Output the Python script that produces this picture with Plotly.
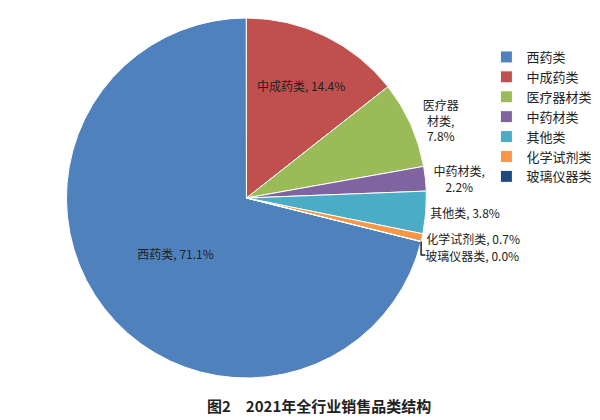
import plotly.graph_objects as go

labels = ["西药类", "中成药类", "医疗器材类", "中药材类", "其他类", "化学试剂类", "玻璃仪器类"]
values = [71.1, 14.4, 7.8, 2.2, 3.8, 0.7, 0.0]
shown = ["西药类, 71.1%", "中成药类, 14.4%", "医疗器<br>材类,<br>7.8%", "中药材类,<br>2.2%",
         "其他类, 3.8%", "化学试剂类, 0.7%", "玻璃仪器类, 0.0%"]
colors = ["#4F81BD", "#C0504D", "#9BBB59", "#8064A2", "#4BACC6", "#F79646", "#1F497D"]

fig = go.Figure(go.Pie(
    labels=labels, values=values, text=shown, sort=False,
    direction="clockwise", rotation=104,
    texttemplate="%{text}",
    textposition=["inside", "inside", "outside", "outside", "outside", "outside", "outside"],
    insidetextorientation="horizontal",
    textfont=dict(size=12, color="#222"),
    marker=dict(colors=colors, line=dict(color="white", width=1)),
    domain=dict(x=[0.0, 0.74], y=[0.1, 1.0]),
    showlegend=True,
))
fig.update_layout(
    width=600, height=420, paper_bgcolor="white",
    margin=dict(l=10, r=10, t=10, b=10),
    font=dict(family="Noto Sans CJK SC", size=12, color="#222"),
    legend=dict(x=0.8, y=0.94, xanchor="left", yanchor="top",
                font=dict(size=13), itemwidth=30),
    annotations=[dict(text="<b>图2　2021年全行业销售品类结构</b>", x=0.5, y=0.0,
                      xref="paper", yref="paper", showarrow=False,
                      font=dict(size=15), yanchor="bottom")],
)
fig.write_html("out.html")
